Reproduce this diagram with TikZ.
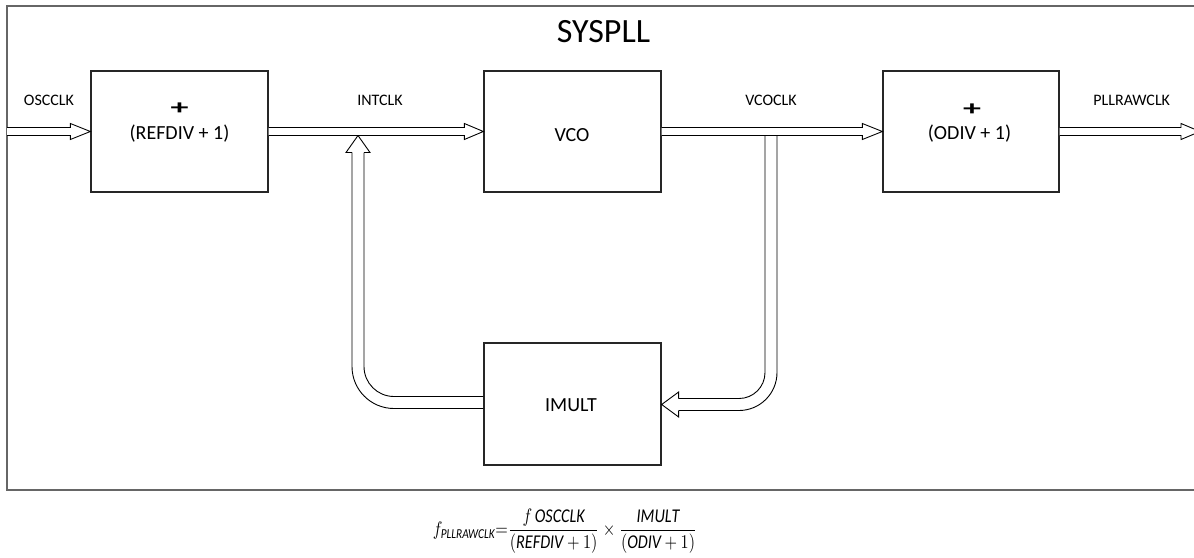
\documentclass[tikz,border=0pt]{standalone}
\usepackage{amsmath}
\usepackage{fontspec}
\setmainfont{Carlito}
\usetikzlibrary{calc}
\newcommand\harr[3]{%
  \draw[arr] ($(#1)+(0,-4)$) -- ($(#2)+(-#3,-4)$) -- ($(#2)+(-#3,-8)$) -- (#2)
    -- ($(#2)+(-#3,8)$) -- ($(#2)+(-#3,4)$) -- ($(#1)+(0,4)$);}
\begin{document}
\begin{tikzpicture}[x=1pt,y=-1pt,
  box/.style={draw=black!85, line width=1.3pt, minimum width=177pt, minimum height=121pt, inner sep=0pt},
  frame/.style={draw=black!60, line width=1.8pt},
  arr/.style={draw=black, line width=0.9pt, fill=white, line join=miter},
  ln/.style={draw=black, line width=0.9pt},
  lbl/.style={font=\fontsize{16}{18}\selectfont, inner sep=0pt, anchor=base},
  btxt/.style={font=\fontsize{20}{24}\selectfont, inner sep=0pt, anchor=base},
  plus/.style={font=\bfseries\fontsize{30}{30}\selectfont, inner sep=0pt, xscale=1.2, yscale=0.7},
]
\useasboundingbox (0,0) rectangle (1194,557);
\fill[white] (0,0) rectangle (1194,557);
\draw[frame] (1200,6) -- (7,6) -- (7,490) -- (1200,490);

\node[font=\fontsize{34}{38}\selectfont, inner sep=0pt, anchor=base] (title) at (603.5,42.7) {SYSPLL};

\node[box] (ref) at (179.5,131.5) {};
\node[box] (vco) at (572.5,131.5) {};
\node[box, minimum width=176pt] (odiv) at (971,131.5) {};
\node[box, minimum height=122pt] (imult) at (572.5,404) {};

\node[plus] (refplus) at (179.5,108.5) {+};
\node[btxt] (reftxt) at (179.5,139) {(REFDIV + 1)};
\node[btxt] (vcotxt) at (572,141) {VCO};
\node[plus] (odivplus) at (972,109.5) {+};
\node[btxt] (odivtxt) at (969.5,139) {(ODIV + 1)};
\node[btxt] (imulttxt) at (571,411) {IMULT};

\node[lbl] (oscl) at (49,105) {OSCCLK};
\node[lbl] (intl) at (380,105) {INTCLK};
\node[lbl] (vcol) at (771,105) {VCOCLK};
\node[lbl] (plll) at (1131.7,105) {PLLRAWCLK};

\coordinate (in) at (7,131.5);
\coordinate (out) at (1200,131.5);
\coordinate (lx) at (358,0);
\coordinate (rx) at (771,0);

% feedback from VCOCLK down to IMULT
\draw[ln, rounded corners=26pt] ($(rx |- vco.east)+(-6,4)$) -- ($(rx |- imult.east)+(-6,-5.5)$) -- ($(imult.east)+(17,-5.5)$);
\draw[ln, rounded corners=38pt] ($(rx |- vco.east)+(6,4)$) -- ($(rx |- imult.east)+(6,6.5)$) -- ($(imult.east)+(17,6.5)$);
\draw[ln, line join=miter] ($(imult.east)+(17,-5.5)$) -- ($(imult.east)+(17,-12)$) -- ($(imult.east)+(0,0.5)$) -- ($(imult.east)+(17,13)$) -- ($(imult.east)+(17,6.5)$);

% feedback from IMULT up to INTCLK
\draw[ln, rounded corners=30pt] ($(imult.west)+(0,-7.5)$) -- ($(lx |- imult.west)+(6,-7.5)$) -- ($(lx |- ref.east)+(6,21)$);
\draw[ln, rounded corners=42pt] ($(imult.west)+(0,4.5)$) -- ($(lx |- imult.west)+(-6,4.5)$) -- ($(lx |- ref.east)+(-6,21)$);
\draw[ln, line join=miter] ($(lx |- ref.east)+(6,21)$) -- ($(lx |- ref.east)+(12,21)$) -- ($(lx |- ref.east)+(0,4)$) -- ($(lx |- ref.east)+(-12,21)$) -- ($(lx |- ref.east)+(-6,21)$);

\harr{in}{ref.west}{20}
\harr{ref.east}{vco.west}{19}
\harr{vco.east}{odiv.west}{20}
\harr{odiv.east}{out}{19}

\node[inner sep=0pt] (formula) at (565,531) {\resizebox*{264pt}{45pt}{$f_{\mbox{\scriptsize\itshape PLLRAWCLK}}{=}\dfrac{f\,\mathit{OSCCLK}}{(\mathit{REFDIV}+1)}\times\dfrac{\mathit{IMULT}}{(\mathit{ODIV}+1)}$}};
\end{tikzpicture}
\end{document}
